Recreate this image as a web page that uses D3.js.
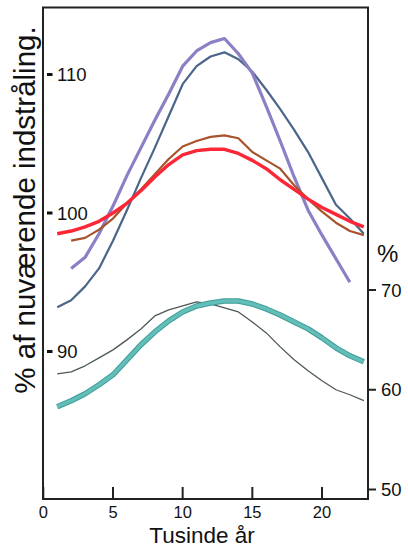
<!DOCTYPE html>
<html>
<head>
<meta charset="utf-8">
<script src="https://cdn.jsdelivr.net/npm/d3@7"></script>
<style>
  body { margin: 0; background: #fff; }
  svg { display: block; font-family: "Liberation Sans", Arial, sans-serif; }
  .lbl { fill: #111; }
</style>
</head>
<body>
<svg id="chart" width="408" height="547"></svg>
<script>
// time axis, thousands of years
var years = d3.range(1, 24);

// left axis series: % of present-day insolation
var purple = [null, 96.0, 96.8, 98.5, 100.5, 102.7, 104.7, 106.7, 108.6, 110.6, 111.7, 112.3, 112.6, 111.5, 110.1, 107.7, 105.2, 102.6, 100.2, 98.4, 96.7, 95.0, null];
var blue   = [93.2, 93.7, 94.7, 96.0, 98.0, 100.2, 102.5, 104.7, 107.0, 109.3, 110.6, 111.3, 111.6, 111.1, 110.2, 108.9, 107.5, 106.0, 104.4, 102.5, 100.6, 99.6, 98.5];
var brown  = [null, 98.0, 98.2, 98.8, 99.6, 100.7, 101.7, 102.8, 103.9, 104.8, 105.2, 105.5, 105.6, 105.4, 104.4, 103.8, 103.2, 102.0, 101.0, 100.1, 99.3, 98.7, 98.4];
var red    = [98.5, 98.7, 99.0, 99.4, 100.0, 100.7, 101.6, 102.6, 103.5, 104.2, 104.5, 104.6, 104.6, 104.3, 103.8, 103.2, 102.4, 101.7, 101.0, 100.4, 99.9, 99.4, 99.0];

// right axis series: %
var gray = [61.6, 61.8, 62.4, 63.2, 64.0, 65.0, 66.1, 67.4, 68.0, 68.4, 68.8, 68.6, 68.2, 67.8, 66.8, 65.7, 64.3, 63.0, 61.9, 60.9, 60.0, 59.5, 58.9];
var teal = [58.3, 58.9, 59.6, 60.5, 61.5, 63.0, 64.5, 65.8, 66.9, 67.8, 68.4, 68.7, 68.9, 68.9, 68.6, 68.1, 67.5, 66.8, 66.1, 65.2, 64.2, 63.4, 62.8];

var xTicks = [0, 5, 10, 15, 20];
var leftTicks = [90, 100, 110];
var rightTicks = [50, 60, 70];

var svg = d3.select("#chart");

var x = d3.scaleLinear().domain([0, 23.3]).range([43.3, 368]);
var yL = d3.scaleLinear().domain([90, 110]).range([351.5, 74.5]);
var yR = d3.scaleLinear().domain([50, 70]).range([489.5, 290]);

var frame = { left: 43, top: 7.5, right: 368, bottom: 499 };

function draw(values, y, color, width) {
  var line = d3.line()
    .defined(function(d) { return d[1] != null; })
    .x(function(d) { return x(d[0]); })
    .y(function(d) { return y(d[1]); });
  var pts = years.map(function(t, i) { return [t, values[i]]; });
  return svg.append("path")
    .attr("d", line(pts))
    .attr("fill", "none")
    .attr("stroke", color)
    .attr("stroke-width", width)
    .attr("stroke-linejoin", "round")
    .attr("stroke-linecap", "butt");
}

// lower group first
draw(gray, yR, "#4d5858", 1.3);
draw(teal, yR, "#3f9d98", 5.5);
draw(teal, yR, "#63bdb8", 3.5);

draw(blue, yL, "#4a6688", 2.2);
draw(purple, yL, "#8b80c6", 3.2);
draw(brown, yL, "#a8532c", 2.2);
draw(red, yL, "#fb2636", 3.4);

// frame
svg.append("rect")
  .attr("x", frame.left).attr("y", frame.top)
  .attr("width", frame.right - frame.left)
  .attr("height", frame.bottom - frame.top)
  .attr("fill", "none").attr("stroke", "#222").attr("stroke-width", 2);

// bottom ticks, pointing up into the plot
svg.selectAll(".xt").data(xTicks).enter().append("line")
  .attr("x1", function(d) { return x(d); }).attr("x2", function(d) { return x(d); })
  .attr("y1", frame.bottom).attr("y2", frame.bottom - 12)
  .attr("stroke", "#222").attr("stroke-width", 2);

svg.selectAll(".xl").data(xTicks).enter().append("text")
  .attr("class", "lbl")
  .attr("x", function(d) { return x(d); })
  .attr("y", 518)
  .attr("text-anchor", "middle")
  .attr("font-size", 16.5)
  .text(function(d) { return d; });

// left ticks drawn inside the frame
svg.selectAll(".lt").data(leftTicks).enter().append("rect")
  .attr("x", 47).attr("y", function(d) { return yL(d) - 1.5; })
  .attr("width", 5.5).attr("height", 3)
  .attr("fill", "#111");

svg.selectAll(".ll").data(leftTicks).enter().append("text")
  .attr("class", "lbl")
  .attr("x", 57)
  .attr("y", function(d) { return yL(d) + 6.5; })
  .attr("font-size", 18.5)
  .text(function(d) { return d; });

// right ticks outside the frame
svg.selectAll(".rt").data(rightTicks).enter().append("line")
  .attr("x1", frame.right).attr("x2", frame.right + 8)
  .attr("y1", function(d) { return yR(d); }).attr("y2", function(d) { return yR(d); })
  .attr("stroke", "#222").attr("stroke-width", 2);

svg.selectAll(".rl").data(rightTicks).enter().append("text")
  .attr("class", "lbl")
  .attr("x", 381)
  .attr("y", function(d) { return yR(d) + 6.5; })
  .attr("font-size", 18.5)
  .text(function(d) { return d; });

svg.append("text").attr("class", "lbl")
  .attr("x", 377).attr("y", 262)
  .attr("font-size", 24).attr("font-weight", 300)
  .text("%");

// axis titles
svg.append("text").attr("class", "lbl")
  .attr("x", 202).attr("y", 543)
  .attr("text-anchor", "middle")
  .attr("font-size", 22.5).attr("font-weight", 300)
  .text("Tusinde år");

svg.append("text").attr("class", "lbl")
  .attr("transform", "translate(35,210) rotate(-90)")
  .attr("text-anchor", "middle")
  .attr("font-size", 29.5).attr("font-weight", 300)
  .text("% af nuværende indstråling.");
</script>
</body>
</html>
